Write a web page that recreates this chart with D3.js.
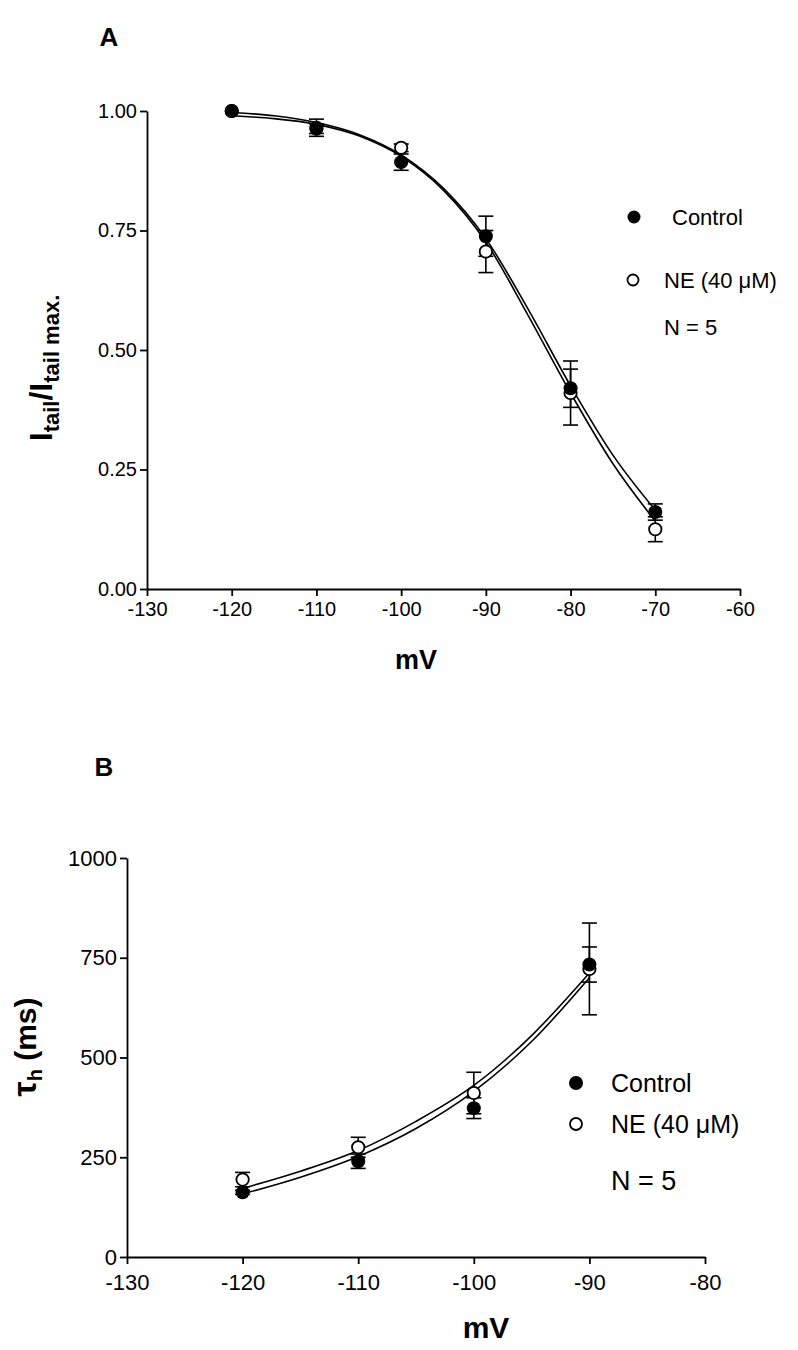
<!DOCTYPE html>
<html>
<head>
<meta charset="utf-8">
<script src="https://cdn.jsdelivr.net/npm/d3@7"></script>
<style>
  body { margin: 0; background: #fff; }
  text { font-family: Arial, "Liberation Sans", sans-serif; }
</style>
</head>
<body>
<script>
// ---- Panel A data: normalised tail current vs voltage ----
const voltsA = [-120, -110, -100, -90, -80, -70];
const ctrlA = [1.00, 0.965, 0.893, 0.738, 0.420, 0.161];
const ctrlErrA = [0, 0.018, 0.017, 0.042, 0.040, 0.017];
const neA = [1.00, 0.963, 0.923, 0.706, 0.410, 0.125];
const neErrA = [0, 0.010, 0.008, 0.044, 0.067, 0.026];

// fitted curves
const fitVoltsA = [-120, -115, -110, -105, -100, -95, -90, -85, -80, -75, -70];
const ctrlFitA = [0.997, 0.990, 0.976, 0.951, 0.908, 0.838, 0.733, 0.585, 0.425, 0.280, 0.165];
const neFitA = [0.990, 0.984, 0.972, 0.948, 0.905, 0.834, 0.726, 0.572, 0.410, 0.262, 0.142];

const xTicksA = [-130, -120, -110, -100, -90, -80, -70, -60];
const yTicksA = [0, 0.25, 0.5, 0.75, 1.0];

// ---- Panel B data: time constant tau_h vs voltage ----
const voltsB = [-120, -110, -100, -90];
const ctrlB = [162, 240, 373, 733];
const ctrlErrB = [5, 18, 26, 44];
const neB = [194, 275, 411, 722];
const neErrB = [18, 25, 52, 115];

const fitVoltsB = [-120, -115, -110, -105, -100, -95, -90];
const ctrlFitB = [158, 200, 252, 322, 415, 540, 700];
const neFitB = [172, 215, 267, 340, 430, 555, 712];

const xTicksB = [-130, -120, -110, -100, -90, -80];
const yTicksB = [0, 250, 500, 750, 1000];

const labels = ["Control", "NE (40 \u03bcM)"];

let width = 798, height = 1350;

let svg = d3.select("body")
  .append("svg")
  .attr("width", width)
  .attr("height", height);

// draws one panel; returns the scales
function drawPanel(cfg) {
  let x = d3.scaleLinear().domain(cfg.xDomain).range(cfg.xRange);
  let y = d3.scaleLinear().domain(cfg.yDomain).range(cfg.yRange);

  let xAxis = svg.append("g")
    .attr("transform", `translate(0,${cfg.yRange[0]})`)
    .call(d3.axisBottom(x).tickValues(cfg.xTicks).tickFormat(d => String(d)).tickSize(7).tickPadding(cfg.xPad).tickSizeOuter(0));
  let yAxis = svg.append("g")
    .attr("transform", `translate(${cfg.xRange[0]},0)`)
    .call(d3.axisLeft(y).tickValues(cfg.yTicks).tickFormat(cfg.yFormat).tickSize(7).tickPadding(3).tickSizeOuter(0));

  [xAxis, yAxis].forEach(a => {
    a.attr("font-family", "Arial, 'Liberation Sans', sans-serif")
      .attr("font-size", cfg.tickFont);
    a.selectAll("path, line").attr("stroke", "#000").attr("stroke-width", 1.8);
    a.selectAll("text").attr("fill", "#000");
  });

  // fitted curves
  let line = d3.line()
    .x(d => x(d[0]))
    .y(d => y(d[1]))
    .curve(d3.curveMonotoneX);
  [cfg.ctrlFit, cfg.neFit].forEach(vals => {
    svg.append("path")
      .datum(cfg.fitVolts.map((v, i) => [v, vals[i]]))
      .attr("d", line)
      .attr("fill", "none")
      .attr("stroke", "#000")
      .attr("stroke-width", 1.6);
  });

  // error bars
  let cap = 7.5;
  [[cfg.ctrl, cfg.ctrlErr], [cfg.ne, cfg.neErr]].forEach(([vals, errs]) => {
    cfg.volts.forEach((v, i) => {
      if (!errs[i]) return;
      let cx = x(v);
      let top = y(vals[i] + errs[i]), bot = y(vals[i] - errs[i]);
      svg.append("line").attr("x1", cx).attr("x2", cx).attr("y1", top).attr("y2", bot)
        .attr("stroke", "#000").attr("stroke-width", 1.6);
      [top, bot].forEach(yy => {
        svg.append("line").attr("x1", cx - cap).attr("x2", cx + cap).attr("y1", yy).attr("y2", yy)
          .attr("stroke", "#000").attr("stroke-width", 1.6);
      });
    });
  });

  // NE points (open) first, control points (filled) on top
  svg.append("g").selectAll("circle")
    .data(cfg.volts.map((v, i) => [v, cfg.ne[i]]))
    .enter().append("circle")
    .attr("cx", d => x(d[0]))
    .attr("cy", d => y(d[1]))
    .attr("r", cfg.r - 0.8)
    .attr("fill", "#fff")
    .attr("stroke", "#000")
    .attr("stroke-width", 1.8);

  svg.append("g").selectAll("circle")
    .data(cfg.volts.map((v, i) => [v, cfg.ctrl[i]]))
    .enter().append("circle")
    .attr("cx", d => x(d[0]))
    .attr("cy", d => y(d[1]))
    .attr("r", cfg.r)
    .attr("fill", "#000");

  return { x, y };
}

// ---------------- Panel A ----------------
drawPanel({
  xDomain: [-130, -60], xRange: [147, 740],
  yDomain: [0, 1], yRange: [589, 111],
  xTicks: xTicksA, yTicks: yTicksA, yFormat: d3.format(".2f"),
  tickFont: 20, xPad: 6,
  volts: voltsA, ctrl: ctrlA, ctrlErr: ctrlErrA, ne: neA, neErr: neErrA,
  fitVolts: fitVoltsA, ctrlFit: ctrlFitA, neFit: neFitA,
  r: 7
});

svg.append("text")
  .attr("x", 109).attr("y", 46)
  .attr("text-anchor", "middle")
  .style("font-size", "26px").style("font-weight", "bold")
  .text("A");

svg.append("text")
  .attr("x", 416).attr("y", 669)
  .attr("text-anchor", "middle")
  .style("font-size", "27px").style("font-weight", "bold")
  .text("mV");

// y label: I_tail / I_tail max.
let yLabA = svg.append("text")
  .attr("transform", "translate(52,368) rotate(-90)")
  .attr("text-anchor", "middle")
  .style("font-weight", "bold")
  .style("font-size", "32px");
yLabA.append("tspan").text("I");
yLabA.append("tspan").attr("dy", 7).style("font-size", "22px").text("tail");
yLabA.append("tspan").attr("dy", -7).text("/I");
yLabA.append("tspan").attr("dy", 7).style("font-size", "22px").text("tail max.");

// legend A
svg.append("circle").attr("cx", 634).attr("cy", 217).attr("r", 6.5).attr("fill", "#000");
svg.append("text").attr("x", 672).attr("y", 225).style("font-size", "22px").text(labels[0]);
svg.append("circle").attr("cx", 633).attr("cy", 280).attr("r", 5.5)
  .attr("fill", "#fff").attr("stroke", "#000").attr("stroke-width", 1.8);
svg.append("text").attr("x", 664).attr("y", 288).style("font-size", "22px").text(labels[1]);
svg.append("text").attr("x", 664).attr("y", 335).style("font-size", "22px").text("N = 5");

// ---------------- Panel B ----------------
drawPanel({
  xDomain: [-130, -80], xRange: [127, 705],
  yDomain: [0, 1000], yRange: [1257, 858],
  xTicks: xTicksB, yTicks: yTicksB, yFormat: d3.format("d"),
  tickFont: 22, xPad: 10,
  volts: voltsB, ctrl: ctrlB, ctrlErr: ctrlErrB, ne: neB, neErr: neErrB,
  fitVolts: fitVoltsB, ctrlFit: ctrlFitB, neFit: neFitB,
  r: 7
});

svg.append("text")
  .attr("x", 104).attr("y", 776)
  .attr("text-anchor", "middle")
  .style("font-size", "26px").style("font-weight", "bold")
  .text("B");

svg.append("text")
  .attr("x", 486).attr("y", 1338)
  .attr("text-anchor", "middle")
  .style("font-size", "30px").style("font-weight", "bold")
  .text("mV");

let yLabB = svg.append("text")
  .attr("transform", "translate(36,1047) rotate(-90)")
  .attr("text-anchor", "middle")
  .style("font-weight", "bold")
  .style("font-size", "30px");
yLabB.append("tspan").style("font-size", "34px").text("\u03c4");
yLabB.append("tspan").attr("dy", 6).style("font-size", "20px").text("h");
yLabB.append("tspan").attr("dy", -6).text(" (ms)");

// legend B
svg.append("circle").attr("cx", 576).attr("cy", 1083).attr("r", 7).attr("fill", "#000");
svg.append("text").attr("x", 611).attr("y", 1092).style("font-size", "25px").text(labels[0]);
svg.append("circle").attr("cx", 576).attr("cy", 1124).attr("r", 6)
  .attr("fill", "#fff").attr("stroke", "#000").attr("stroke-width", 1.8);
svg.append("text").attr("x", 611).attr("y", 1133).style("font-size", "25px").text(labels[1]);
svg.append("text").attr("x", 611).attr("y", 1190).style("font-size", "27px").text("N = 5");
</script>
</body>
</html>
